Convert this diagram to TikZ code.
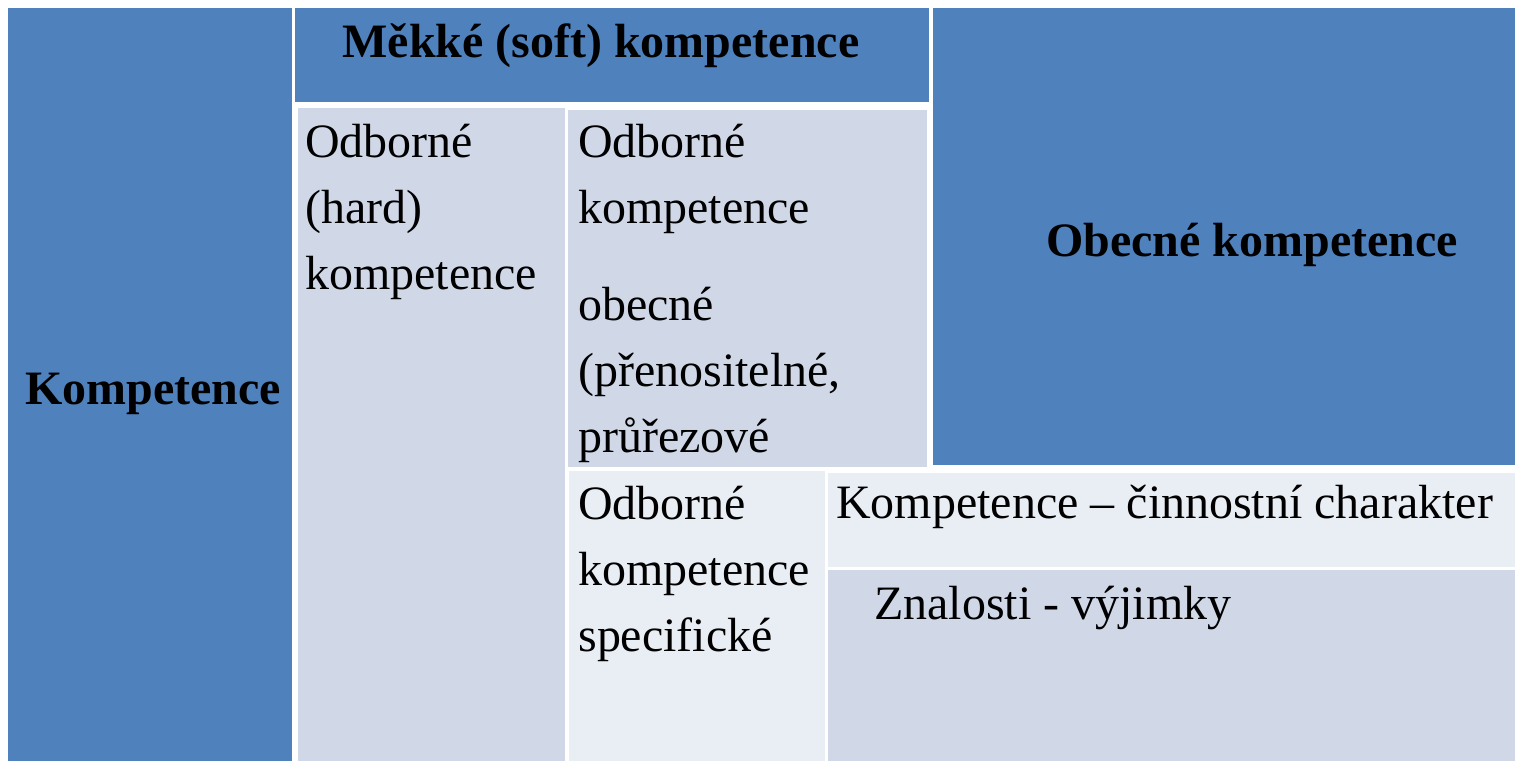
\documentclass[tikz,border=0pt]{standalone}
\usepackage{fontspec}
\setmainfont{Liberation Serif}
\definecolor{modra}{HTML}{4F81BD}
\definecolor{svetla}{HTML}{D0D8E8}
\definecolor{bleda}{HTML}{E9EDF4}
\tikzset{
  txt/.style={anchor=base west, inner sep=0pt, font=\fontsize{27.3}{36}\selectfont},
  tucny/.style={anchor=base, inner sep=0pt, font=\fontsize{27.3}{36}\selectfont\bfseries}
}

\begin{document}
\begin{tikzpicture}[x=0.02cm,y=-0.02cm]
\useasboundingbox (0,0) rectangle (1515,761);
\fill[white] (0,0) rectangle (1515,761);

% Blue blocks
\fill[modra] (8,8) rectangle (292,761);
\fill[modra] (295,8) rectangle (929,102);
\fill[modra] (933,8) rectangle (1515,465);

% Light cells
\fill[svetla] (298,108) rectangle (565,761);
\fill[svetla] (568,110) rectangle (927,467);
\fill[bleda] (569,471) rectangle (825,761);
\fill[bleda] (828,473) rectangle (1515,567);
\fill[svetla] (828,570) rectangle (1515,761);

% Headings
\node[tucny] (komp) at (153,404) {Kompetence};
\node[tucny] (mekke) at (601,57) {Měkké (soft) kompetence};
\node[tucny] (obecne) at (1252,256) {Obecné kompetence};

% Hard
\foreach \t [count=\i] in {Odborné,(hard),kompetence}
  \node[txt] (hard\i) at (305,{157+66*(\i-1)}) {\t};

% Odborne obecne
\foreach \t [count=\i] in {Odborné,kompetence}
  \node[txt] (odbA\i) at (578,{157+66*(\i-1)}) {\t};
\foreach \t [count=\i] in {obecné,{(přenositelné,},průřezové}
  \node[txt] (odbB\i) at (578,{320+66*(\i-1)}) {\t};

% Odborne specificke
\foreach \t [count=\i] in {Odborné,kompetence,specifické}
  \node[txt] (spec\i) at (578,{519+66*(\i-1)}) {\t};

\node[txt] (cinn) at (836,518) {Kompetence – činnostní charakter};
\node[txt] (znal) at (874,619) {Znalosti - výjimky};
\end{tikzpicture}
\end{document}
